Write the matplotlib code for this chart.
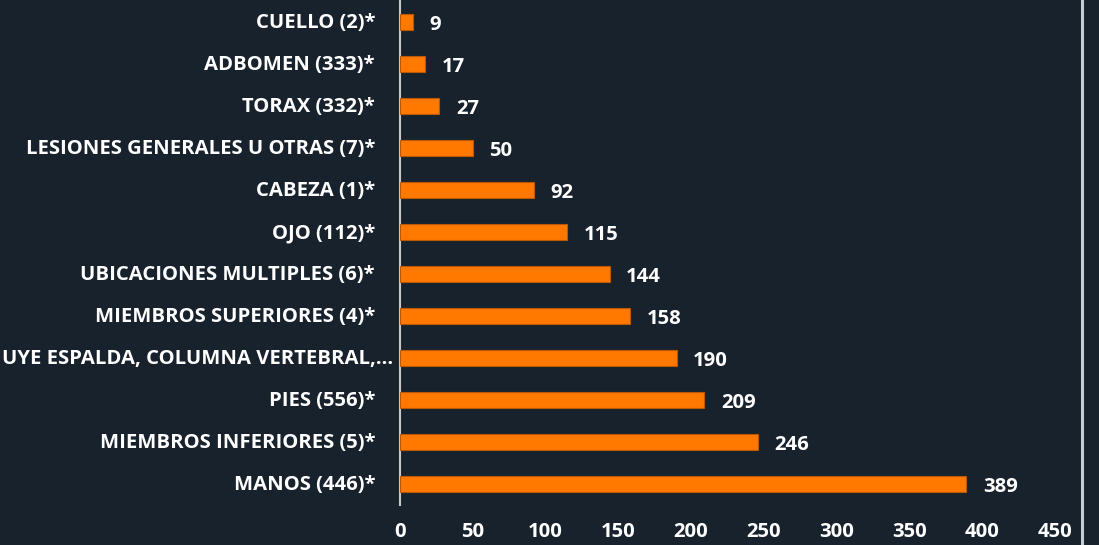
import matplotlib
matplotlib.use("Agg")
import matplotlib.pyplot as plt
from matplotlib.lines import Line2D

categories = [
    "MANOS (446)*",
    "MIEMBROS INFERIORES (5)*",
    "PIES (556)*",
    "UYE ESPALDA, COLUMNA VERTEBRAL,…",
    "MIEMBROS SUPERIORES (4)*",
    "UBICACIONES MULTIPLES (6)*",
    "OJO (112)*",
    "CABEZA (1)*",
    "LESIONES GENERALES U OTRAS (7)*",
    "TORAX (332)*",
    "ADBOMEN (333)*",
    "CUELLO (2)*",
]
values = [389, 246, 209, 190, 158, 144, 115, 92, 50, 27, 17, 9]
xticks = [0, 50, 100, 150, 200, 250, 300, 350, 400, 450]

BG = "#17222d"
ORANGE = "#ff7800"
FONT = "Open Sans"
FS = 14.6

fig = plt.figure(figsize=(10.99, 5.45), dpi=100, facecolor=BG)
W, H = 1099, 545
ax = fig.add_axes([400 / W, 1 - 505 / H, (1055 - 400) / W, (505 - 1) / H])
ax.set_facecolor(BG)

ypos = list(range(len(categories)))
ax.barh(ypos, values, height=0.36, color=ORANGE, edgecolor="#b95a00", linewidth=0.8, zorder=3)

ax.set_xlim(0, 450)
ax.set_ylim(-0.5, len(categories) - 0.5)

for s in ["top", "right", "bottom"]:
    ax.spines[s].set_visible(False)
ax.spines["left"].set_color("#c9c9c9")
ax.spines["left"].set_linewidth(1.5)

ax.set_yticks(ypos)
ax.set_yticklabels([])
for y, lab in zip(ypos, categories):
    off = -5 if lab.startswith("UYE") else -18
    ax.annotate(lab, xy=(0, y), xycoords="data", xytext=(off, -1),
                textcoords="offset points", ha="right", va="center",
                color="white", fontsize=FS, fontweight="bold", family=FONT)
ax.tick_params(axis="y", length=0)

ax.set_xticks(xticks)
ax.set_xticklabels([str(t) for t in xticks], color="white", fontsize=FS,
                   fontweight="bold", family=FONT)
ax.tick_params(axis="x", length=0, pad=12)

for y, v in zip(ypos, values):
    ax.annotate(str(v), xy=(v, y), xytext=(12, -2.5), textcoords="offset points",
                ha="left", va="center", color="white", fontsize=FS,
                fontweight="bold", family=FONT)

fig.add_artist(Line2D([1082 / W, 1082 / W], [0, 1], transform=fig.transFigure,
                      color="#c5cdd1", linewidth=2.2))

fig.savefig("out.png", dpi=100, facecolor=BG)
